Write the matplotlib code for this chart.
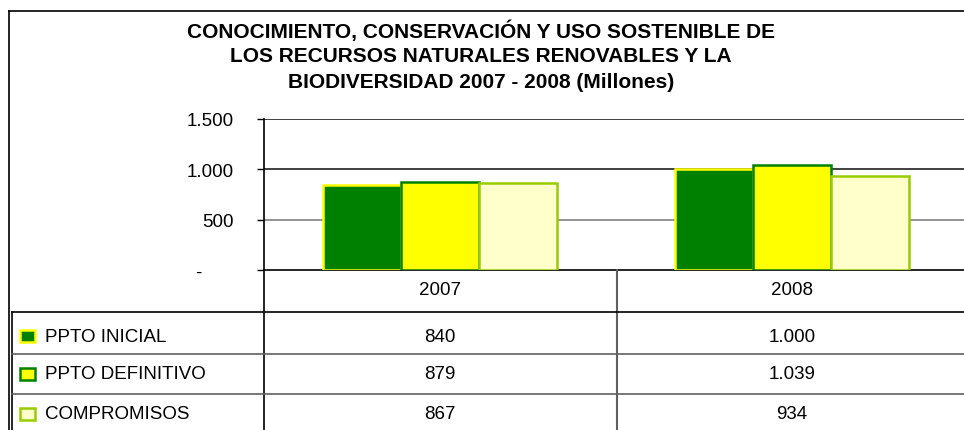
import matplotlib.pyplot as plt
from matplotlib.lines import Line2D
from matplotlib.patches import Rectangle
import numpy as np

W, H = 964, 431

TITLE = ["CONOCIMIENTO, CONSERVACIÓN Y USO SOSTENIBLE DE",
         "LOS RECURSOS NATURALES RENOVABLES Y LA",
         "BIODIVERSIDAD 2007 - 2008 (Millones)"]
years = ["2007", "2008"]
series_names = ["PPTO INICIAL", "PPTO DEFINITIVO", "COMPROMISOS"]
ppto_inicial = [840, 1000]
ppto_definitivo = [879, 1039]
compromisos = [867, 934]
y_ticks = [0, 500, 1000, 1500]
y_tick_labels = ["-      ", "500", "1.000", "1.500"]

fills = ["#008000", "#ffff00", "#ffffcc"]
edges = ["#ffff00", "#008000", "#99cc00"]


def fx(px):
    return px / W


def fy(py):
    return 1 - py / H


def fmt(v):
    return "{:,}".format(v).replace(",", ".")


plt.rcParams['font.family'] = ['Liberation Sans', 'DejaVu Sans']
FS = 13.5

fig = plt.figure(figsize=(W / 100, H / 100), dpi=100)
ax = fig.add_axes([fx(264), fy(271), fx(968 - 264), fy(120) - fy(271)])

# bars
values = [ppto_inicial, ppto_definitivo, compromisos]
x = np.arange(len(years))
bw = 0.222
for i, vals in enumerate(values):
    ax.bar(x + (i - 1) * bw, vals, bw, color=fills[i], edgecolor=edges[i],
           linewidth=1.8, zorder=3)

ax.set_xlim(-0.5, 1.5)
ax.set_ylim(0, 1500)
ax.set_yticks(y_ticks)
ax.set_yticklabels(y_tick_labels, fontsize=FS)
ax.set_xticks([])
ax.tick_params(axis='y', length=5, width=1, pad=17, colors='black')
for s in ['top', 'right']:
    ax.spines[s].set_visible(False)
ax.spines['left'].set_linewidth(1.2)
ax.spines['bottom'].set_linewidth(1.2)

# gridlines
for v, c in [(500, '#808080'), (1000, '#202020'), (1500, '#202020')]:
    ax.axhline(v, color=c, lw=1.2, zorder=1)

# title
for k, line in enumerate(TITLE):
    fig.text(fx(481), fy(31 + 26 * k), line, ha='center', va='center',
             fontsize=15, fontweight='bold')

# outer frame
fig.add_artist(Line2D([fx(9), fx(9)], [fy(12), fy(431)], color='black', lw=1.2))
fig.add_artist(Line2D([fx(9), 1], [fy(12), fy(12)], color='black', lw=1.2))

# data table
row_y = [271, 313, 355, 395]
text_y = [337, 375, 415]
fig.add_artist(Line2D([fx(264), fx(264)], [fy(271), 0], color='black', lw=1.2))
fig.add_artist(Line2D([fx(617), fx(617)], [fy(271), 0], color='#606060', lw=1.5))
fig.add_artist(Line2D([fx(11.5), fx(11.5)], [fy(313), 0], color='black', lw=1.2))
fig.add_artist(Line2D([fx(11.5), 1], [fy(313), fy(313)], color='black', lw=1.2))
for yy in row_y[2:]:
    fig.add_artist(Line2D([fx(11.5), 1], [fy(yy), fy(yy)], color='#606060', lw=1.2))

col_x = [440, 792]
for j, yr in enumerate(years):
    fig.text(fx(col_x[j]), fy(291), yr, ha='center', va='center', fontsize=FS)

for i, name in enumerate(series_names):
    yc = text_y[i]
    fig.add_artist(Rectangle((fx(20), fy(yc + 6)), fx(15), fy(yc - 6) - fy(yc + 6),
                             facecolor=fills[i], edgecolor=edges[i], lw=1.8))
    fig.text(fx(45), fy(yc), name, ha='left', va='center', fontsize=FS)
    for j in range(len(years)):
        fig.text(fx(col_x[j]), fy(yc), fmt(values[i][j]), ha='center', va='center',
                 fontsize=FS)

fig.savefig("out.png", dpi=100)
